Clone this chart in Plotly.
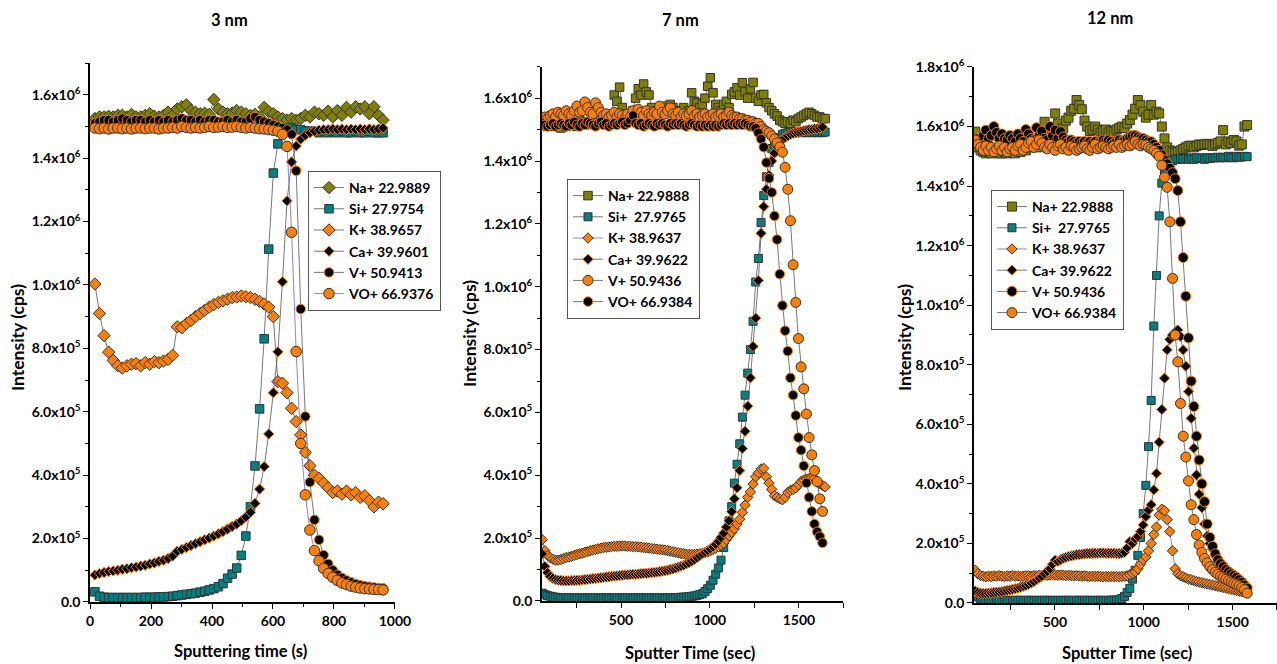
import plotly.graph_objects as go

SCALE = 1e5  # all intensity values below are in units of 1e5 cps

# ---------------- 3 nm ----------------
time_3nm = [16,31,46,61,76,91,106,121,136,151,166,181,196,211,226,241,256,271,286,301,
            316,331,346,361,376,391,406,421,436,451,466,481,496,511,526,541,556,571,586,601,
            616,631,646,661,676,691,706,721,736,751,766,781,796,811,826,841,856,871,886,901,
            916,931,946,961]
na_3nm = [15.25,15.3,15.3,15.32,15.3,15.35,15.35,15.3,15.38,15.3,
          15.3,15.35,15.4,15.32,15.3,15.35,15.45,15.35,15.55,15.62,
          15.68,15.5,15.45,15.4,15.42,15.38,15.85,15.55,15.45,15.4,
          15.42,15.5,15.45,15.4,15.35,15.38,15.3,15.6,15.47,15.4,
          15.3,15.25,15.2,15.25,15.2,15.25,15.35,15.3,15.45,15.4,
          15.35,15.48,15.3,15.5,15.35,15.6,15.45,15.62,15.55,15.62,
          15.4,15.62,15.35,15.2]
si_3nm = [0.32,0.18,0.15,0.14,0.14,0.14,0.14,0.14,0.14,0.14,
          0.14,0.15,0.15,0.15,0.16,0.16,0.17,0.18,0.2,0.22,
          0.24,0.26,0.28,0.31,0.34,0.38,0.42,0.48,0.58,0.75,
          0.88,1.07,1.47,2.08,3.0,4.29,6.09,8.3,11.13,13.53,
          14.45,14.9,14.95,14.95,14.9,14.9,14.85,14.85,14.85,14.8,
          14.85,14.8,14.85,14.8,14.85,14.8,14.8,14.85,14.8,14.8,
          14.85,14.8,14.8,14.8]
k_3nm = [10.03,9.1,8.4,7.88,7.62,7.45,7.38,7.45,7.5,7.52,
         7.45,7.55,7.5,7.58,7.55,7.6,7.65,7.78,8.68,8.65,
         8.78,8.88,9.0,9.1,9.2,9.3,9.38,9.45,9.5,9.55,
         9.6,9.62,9.65,9.63,9.6,9.55,9.48,9.4,9.3,9.0,
         6.95,6.9,6.6,6.11,5.69,5.27,4.72,4.3,4.0,3.9,
         3.75,3.6,3.45,3.5,3.4,3.5,3.38,3.45,3.3,3.35,
         3.2,3.0,3.15,3.1]
ca_3nm = [0.85,0.9,0.93,0.96,0.98,1.0,1.03,1.05,1.08,1.1,
          1.13,1.16,1.2,1.23,1.28,1.32,1.37,1.45,1.6,1.66,
          1.72,1.78,1.84,1.9,1.96,2.02,2.08,2.15,2.22,2.3,
          2.38,2.46,2.56,2.68,2.83,3.11,3.56,4.27,5.3,6.6,
          7.89,10.1,12.65,13.88,14.38,14.6,14.72,14.8,14.85,14.88,
          14.9,14.9,14.92,14.9,14.92,14.9,14.92,14.9,14.92,14.9,
          14.92,14.9,14.92,14.95]
v_3nm = [15.1,15.15,15.2,15.2,15.15,15.2,15.25,15.2,15.15,15.2,
         15.2,15.15,15.2,15.15,15.2,15.15,15.2,15.15,15.2,15.25,
         15.2,15.2,15.15,15.2,15.15,15.2,15.2,15.15,15.15,15.2,
         15.15,15.2,15.15,15.15,15.25,15.3,15.2,15.15,15.1,15.05,
         15.0,14.95,14.9,14.75,13.6,9.24,5.85,3.78,2.59,1.96,
         1.48,1.2,1.0,0.86,0.76,0.68,0.62,0.57,0.53,0.5,
         0.48,0.46,0.44,0.43]
vo_3nm = [14.95,14.93,14.95,14.92,14.95,14.95,14.93,14.95,14.92,14.95,
          14.95,14.93,14.95,14.95,14.92,14.95,14.95,14.97,14.95,15.0,
          14.97,14.95,14.97,14.95,14.97,15.0,14.97,14.98,15.0,14.97,
          14.98,15.0,14.97,14.95,14.97,14.95,14.93,14.92,14.9,14.88,
          14.85,14.75,14.37,11.66,7.9,5.0,3.38,2.27,1.62,1.3,
          1.06,0.9,0.78,0.68,0.6,0.55,0.5,0.47,0.44,0.42,
          0.41,0.4,0.39,0.38]

# ---------------- 7 nm ----------------
time_7nm = [57,72,87,102,117,132,147,162,177,192,207,222,237,252,267,282,297,312,327,342,
            357,372,387,402,417,432,447,462,477,492,507,522,537,552,567,582,597,612,627,642,
            657,672,687,702,717,732,747,762,777,792,807,822,837,852,867,882,897,912,927,942,
            957,972,987,1002,1017,1032,1047,1062,1077,1092,1107,1122,1137,1152,1167,1182,1197,1212,1227,1242,
            1257,1272,1287,1302,1317,1332,1347,1362,1377,1392,1407,1422,1437,1452,1467,1482,1497,1512,1527,1542,
            1557,1572,1587,1602,1617,1632,1647]
na_7nm = [15.2,15.15,15.1,15.2,15.25,15.1,15.15,15.05,15.2,15.1,
          15.25,15.15,15.2,15.1,15.3,15.2,15.15,15.25,15.2,15.3,
          15.2,15.25,15.35,15.3,15.4,15.3,15.5,16.1,15.9,16.35,
          15.7,15.5,15.4,15.5,15.6,16.0,16.3,16.1,16.45,16.2,
          16.1,15.7,15.5,15.6,15.7,15.5,15.6,15.75,15.8,15.7,
          15.6,15.5,15.6,15.7,15.5,15.6,16.17,15.9,15.85,15.7,
          15.8,16.0,16.38,16.65,16.17,15.8,15.7,15.6,15.8,15.9,
          15.7,16.12,16.2,16.33,16.1,16.49,16.2,16.0,16.3,16.5,
          16.0,15.9,16.1,16.12,15.85,15.7,15.6,15.5,15.43,15.3,
          15.25,15.2,15.25,15.2,15.3,15.25,15.35,15.4,15.45,15.5,
          15.55,15.5,15.45,15.4,15.4,15.35,15.35]
si_7nm = [0.25,0.2,0.17,0.15,0.13,0.12,0.11,0.1,0.1,0.1,
          0.1,0.09,0.1,0.1,0.09,0.1,0.1,0.1,0.09,0.1,
          0.1,0.1,0.09,0.1,0.1,0.1,0.09,0.1,0.1,0.1,
          0.09,0.1,0.1,0.1,0.09,0.1,0.1,0.1,0.09,0.1,
          0.1,0.1,0.09,0.1,0.1,0.1,0.09,0.1,0.1,0.1,
          0.1,0.11,0.12,0.12,0.13,0.14,0.15,0.16,0.18,0.2,
          0.23,0.3,0.39,0.5,0.66,0.85,1.05,1.3,1.7,2.1,
          2.55,3.0,3.75,4.35,5.0,5.85,6.55,7.25,8.0,8.9,
          10.15,10.9,12.04,12.9,13.5,13.95,14.4,14.55,14.65,14.75,
          14.85,14.88,14.9,14.9,14.92,14.9,14.92,14.9,14.92,14.9,
          14.92,14.9,14.92,14.9,14.92,14.9,14.92]
k_7nm = [1.95,1.6,1.45,1.38,1.33,1.3,1.3,1.32,1.35,1.38,
         1.4,1.42,1.45,1.48,1.5,1.52,1.55,1.57,1.6,1.62,
         1.64,1.66,1.68,1.7,1.71,1.72,1.73,1.74,1.74,1.75,
         1.75,1.75,1.74,1.74,1.73,1.73,1.72,1.71,1.7,1.69,
         1.68,1.67,1.66,1.65,1.64,1.63,1.62,1.6,1.58,1.57,
         1.55,1.53,1.51,1.5,1.49,1.48,1.48,1.48,1.49,1.5,
         1.52,1.54,1.56,1.6,1.64,1.68,1.73,1.78,1.84,1.95,
         2.07,2.18,2.3,2.45,2.6,2.82,3.05,3.3,3.47,3.72,
         3.95,4.08,4.2,4.22,3.95,3.75,3.55,3.35,3.3,3.25,
         3.22,3.3,3.45,3.52,3.55,3.6,3.7,3.8,3.85,3.88,
         3.9,3.92,3.9,3.78,3.72,3.68,3.63]
ca_7nm = [1.5,1.1,0.9,0.78,0.72,0.68,0.66,0.65,0.64,0.64,
          0.64,0.65,0.65,0.66,0.66,0.67,0.68,0.69,0.7,0.71,
          0.72,0.73,0.74,0.75,0.76,0.77,0.78,0.79,0.8,0.81,
          0.82,0.83,0.83,0.84,0.85,0.85,0.86,0.87,0.88,0.88,
          0.89,0.9,0.91,0.92,0.93,0.95,0.96,0.98,1.0,1.02,
          1.05,1.08,1.11,1.14,1.18,1.22,1.27,1.32,1.38,1.44,
          1.5,1.55,1.6,1.66,1.72,1.8,1.9,2.02,2.16,2.35,
          2.55,2.84,3.25,3.6,4.15,4.85,5.4,6.2,7.1,8.1,
          9.0,10.2,11.7,12.55,13.1,13.55,14.0,14.25,14.45,14.6,
          14.68,14.75,14.8,14.85,14.88,14.9,14.92,14.94,14.96,14.98,
          15.0,15.0,15.02,15.03,15.05,15.08,None]
v_7nm = [15.3,15.4,15.35,15.45,15.5,15.4,15.55,15.5,15.45,15.6,
         15.5,15.45,15.6,15.75,15.55,15.6,15.88,15.7,15.55,15.5,
         15.85,15.7,15.55,15.45,15.5,15.4,15.45,15.55,15.4,15.5,
         15.45,15.35,15.5,15.4,15.6,15.5,15.65,15.55,15.45,15.6,
         15.5,15.45,15.55,15.5,15.75,15.55,15.5,15.6,15.69,15.5,
         15.45,15.55,15.4,15.5,15.45,15.5,15.6,15.45,15.5,15.4,
         15.45,15.5,15.4,15.45,15.5,15.4,15.45,15.5,15.4,15.45,
         15.55,15.45,15.4,15.4,15.35,15.35,15.3,15.3,15.25,15.25,
         15.2,15.2,15.1,15.0,14.95,14.9,14.8,14.7,14.58,14.45,
         14.28,13.8,13.1,12.1,10.7,9.5,8.35,7.45,6.75,5.95,
         5.2,4.65,4.15,3.8,3.25,2.85,None]
vo_7nm = [15.2,15.15,15.1,15.15,15.2,15.1,15.15,15.2,15.15,15.1,
          15.2,15.15,15.25,15.15,15.1,15.2,15.15,15.25,15.2,15.15,
          15.1,15.2,15.25,15.15,15.2,15.1,15.15,15.2,15.15,15.2,
          15.25,15.15,15.2,15.3,15.45,15.2,15.15,15.2,15.1,15.15,
          15.2,15.15,15.1,15.2,15.15,15.2,15.15,15.1,15.2,15.15,
          15.2,15.15,15.2,15.15,15.1,15.15,15.2,15.15,15.1,15.15,
          15.1,15.15,15.1,15.15,15.1,15.15,15.1,15.15,15.2,15.15,
          15.2,15.15,15.2,15.15,15.2,15.15,15.2,15.15,15.1,15.1,
          15.05,14.9,14.7,14.44,13.95,13.45,13.0,12.25,11.5,10.4,
          9.4,8.6,7.95,7.1,6.55,5.9,5.2,4.8,4.3,3.76,
          3.3,2.85,2.45,2.2,2.05,1.85,None]

# ---------------- 12 nm ----------------
time_12nm = [52,67,82,97,112,127,142,157,172,187,202,217,232,247,262,277,292,307,322,337,
             352,367,382,397,412,427,442,457,472,487,502,517,532,547,562,577,592,607,622,637,
             652,667,682,697,712,727,742,757,772,787,802,817,832,847,862,877,892,907,922,937,
             952,967,982,997,1012,1027,1042,1057,1072,1087,1102,1117,1132,1147,1162,1177,1192,1207,1222,1237,
             1252,1267,1282,1297,1312,1327,1342,1357,1372,1387,1402,1417,1432,1447,1462,1477,1492,1507,1522,1537,
             1552,1567,1582]
na_12nm = [15.83,15.3,15.2,15.15,15.1,15.15,15.1,15.2,15.15,15.1,
           15.1,15.15,15.1,15.2,15.15,15.1,15.2,15.15,15.25,15.2,
           15.3,15.55,15.4,15.3,15.45,15.6,16.16,15.8,15.7,15.9,
           16.44,16.1,15.9,15.95,16.2,16.3,16.53,16.6,16.89,16.72,
           16.58,16.2,16.0,15.85,15.9,16.0,15.9,15.8,15.85,15.9,
           15.8,15.85,15.83,15.9,15.95,16.0,15.95,16.1,16.22,16.4,
           16.6,16.89,16.72,16.5,16.3,16.4,16.72,16.4,16.5,16.44,
           16.0,15.6,15.3,15.2,15.15,15.13,15.15,15.2,15.25,15.3,
           15.35,15.36,15.3,15.35,15.4,15.38,15.4,15.42,15.4,15.35,
           15.4,15.45,15.5,15.88,15.4,15.5,15.45,15.55,15.5,15.36,
           15.4,16.0,16.05]
si_12nm = [0.3,0.2,0.15,0.12,0.1,0.1,0.09,0.09,0.09,0.09,
           0.09,0.08,0.09,0.09,0.08,0.09,0.09,0.09,0.08,0.09,
           0.09,0.09,0.08,0.09,0.09,0.08,0.09,0.09,0.09,0.08,
           0.09,0.09,0.08,0.09,0.09,0.09,0.08,0.09,0.09,0.09,
           0.08,0.09,0.09,0.09,0.08,0.09,0.09,0.09,0.08,0.09,
           0.09,0.09,0.1,0.1,0.12,0.15,0.22,0.35,0.49,0.8,
           1.1,1.6,2.2,3.0,3.95,5.25,6.8,9.3,11.0,13.0,
           14.1,14.5,14.7,14.8,14.85,14.9,14.9,14.93,14.9,14.93,
           14.9,14.95,14.9,14.95,14.93,14.95,14.9,14.95,14.93,14.95,
           14.95,14.97,14.95,14.97,14.95,15.0,14.97,14.95,15.0,14.97,
           14.98,15.0,14.99]
k_12nm = [1.1,0.98,0.92,0.9,0.88,0.9,0.89,0.91,0.9,0.92,
          0.9,0.89,0.91,0.9,0.92,0.9,0.91,0.89,0.9,0.92,
          0.91,0.9,0.92,0.91,0.93,0.92,0.94,0.93,0.94,0.95,
          0.94,0.93,0.94,0.93,0.92,0.93,0.92,0.91,0.92,0.91,
          0.9,0.91,0.9,0.89,0.9,0.89,0.9,0.89,0.88,0.89,
          0.88,0.89,0.88,0.89,0.88,0.89,0.9,0.91,0.95,1.0,
          1.05,1.15,1.3,1.45,1.55,1.75,2.0,2.3,2.55,2.95,
          3.15,3.1,2.8,2.4,1.75,1.15,0.98,0.92,0.88,0.84,
          0.8,0.78,0.75,0.72,0.7,0.68,0.66,0.64,0.62,0.6,
          0.58,0.56,0.54,0.52,0.5,0.48,0.46,0.44,0.42,0.4,
          0.38,0.36,0.34]
ca_12nm = [0.4,0.35,0.33,0.32,0.32,0.33,0.34,0.35,0.36,0.37,
           0.38,0.4,0.42,0.44,0.46,0.48,0.5,0.53,0.56,0.59,
           0.63,0.67,0.72,0.78,0.84,0.9,0.98,1.06,1.15,1.3,
           1.44,1.4,1.45,1.5,1.53,1.56,1.58,1.6,1.62,1.63,
           1.64,1.65,1.66,1.66,1.67,1.67,1.67,1.68,1.68,1.67,
           1.67,1.67,1.67,1.66,1.66,1.67,1.7,1.85,2.06,2.0,
           2.15,2.23,2.4,2.62,2.9,3.12,3.3,3.8,4.35,5.4,
           6.5,7.55,8.5,8.85,9.0,9.1,9.17,8.95,8.5,7.95,
           7.1,6.2,5.2,4.3,3.65,3.2,2.65,2.25,2.0,1.8,
           1.62,1.48,1.36,1.25,1.15,1.06,0.98,0.9,0.83,0.76,
           0.69,0.62,0.55]
v_12nm = [15.4,15.6,15.5,15.7,15.88,15.6,15.7,16.0,15.8,15.6,
          15.75,15.6,15.55,15.7,15.6,15.5,15.75,15.6,15.5,15.9,
          15.75,15.6,15.55,15.96,15.7,15.85,15.6,15.55,16.0,15.7,
          15.88,15.6,15.83,15.65,15.55,15.5,15.55,15.5,15.45,15.5,
          15.45,15.5,15.45,15.5,15.45,15.5,15.45,15.5,15.55,15.5,
          15.55,15.5,15.45,15.5,15.55,15.5,15.55,15.6,15.65,15.7,
          15.7,15.65,15.6,15.6,15.55,15.5,15.49,15.4,15.3,15.2,
          15.05,14.88,14.75,14.6,14.45,14.25,13.85,12.8,11.6,10.3,
          8.9,7.45,6.6,5.6,4.8,4.0,3.4,2.65,2.2,1.9,
          1.65,1.45,1.32,1.22,1.12,1.05,0.98,0.92,0.86,0.78,
          0.7,0.6,0.5]
vo_12nm = [15.55,15.4,15.3,15.2,15.35,15.2,15.3,15.15,15.25,15.35,
           15.2,15.3,15.15,15.25,15.3,15.2,15.35,15.4,15.2,15.3,
           15.45,15.5,15.3,15.4,15.55,15.45,15.3,15.25,15.4,15.3,
           15.2,15.35,15.4,15.25,15.3,15.2,15.35,15.3,15.2,15.25,
           15.3,15.35,15.25,15.2,15.3,15.4,15.25,15.3,15.35,15.3,
           15.25,15.3,15.35,15.3,15.4,15.3,15.35,15.4,15.35,15.4,
           15.5,15.4,15.35,15.4,15.38,15.3,15.25,15.2,15.1,15.0,
           14.7,14.3,13.96,12.8,10.9,9.0,8.1,6.7,5.6,4.9,
           4.1,3.3,2.8,2.3,1.95,1.7,1.5,1.35,1.22,1.12,
           1.03,0.96,0.9,0.85,0.8,0.75,0.7,0.66,0.62,0.58,
           0.52,0.45,0.33]

# legend labels
names_3nm = ["Na+ 22.9889", "Si+ 27.9754", "K+ 38.9657", "Ca+ 39.9601", "V+ 50.9413", "VO+ 66.9376"]
names_7nm = ["Na+ 22.9888", "Si+\u00a0 27.9765", "K+ 38.9637", "Ca+ 39.9622", "V+ 50.9436", "VO+ 66.9384"]
names_12nm = ["Na+ 22.9888", "Si+\u00a0 27.9765", "K+ 38.9637", "Ca+ 39.9622", "V+ 50.9436", "VO+ 66.9384"]

# tick labels
ytick_vals = [0, 2e5, 4e5, 6e5, 8e5, 1e6, 1.2e6, 1.4e6, 1.6e6, 1.8e6]
ytick_text = ["0.0", "2.0x10<sup>5</sup>", "4.0x10<sup>5</sup>", "6.0x10<sup>5</sup>",
              "8.0x10<sup>5</sup>", "1.0x10<sup>6</sup>", "1.2x10<sup>6</sup>",
              "1.4x10<sup>6</sup>", "1.6x10<sup>6</sup>", "1.8x10<sup>6</sup>"]
xtick_3nm = [0, 200, 400, 600, 800, 1000]
xtick_long = [250, 500, 750, 1000, 1250, 1500, 1750]
xtick_long_text = ["", "500", "", "1000", "", "1500", ""]

for arr in [na_3nm, si_3nm, k_3nm, ca_3nm, v_3nm, vo_3nm]:
    assert len(arr) == len(time_3nm), len(arr)
for arr in [na_7nm, si_7nm, k_7nm, ca_7nm, v_7nm, vo_7nm]:
    assert len(arr) == len(time_7nm), len(arr)
for arr in [na_12nm, si_12nm, k_12nm, ca_12nm, v_12nm, vo_12nm]:
    assert len(arr) == len(time_12nm), len(arr)

FONT = "Lato"
OLIVE, TEAL, ORANGE, BLACK = "#808000", "#008080", "#FF8000", "#000000"
DARK, GREY, BLUE = "#333333", "#555555", "#6a6ad0"


def sc(arr):
    return [None if v is None else v * SCALE for v in arr]


fig = go.Figure()


def add(x, y, name, sym, fill, outline, size, axis, legend, lcolor=GREY):
    fig.add_trace(go.Scatter(
        x=x, y=sc(y), name=name, mode="lines+markers",
        xaxis="x" + axis, yaxis="y" + axis, legend=legend,
        line=dict(color=lcolor, width=0.8),
        marker=dict(symbol=sym, color=fill, size=size, line=dict(color=outline, width=1)),
    ))


# panel 1
add(time_3nm, na_3nm, names_3nm[0], "diamond", OLIVE, DARK, 9.5, "", "legend")
add(time_3nm, si_3nm, names_3nm[1], "square", TEAL, DARK, 8.5, "", "legend")
add(time_3nm, k_3nm, names_3nm[2], "diamond", ORANGE, DARK, 9.5, "", "legend")
add(time_3nm, ca_3nm, names_3nm[3], "diamond", BLACK, ORANGE, 8, "", "legend")
add(time_3nm, v_3nm, names_3nm[4], "circle", BLACK, ORANGE, 9.5, "", "legend")
add(time_3nm, vo_3nm, names_3nm[5], "circle", ORANGE, DARK, 10.5, "", "legend", BLUE)
# panel 2
add(time_7nm, na_7nm, names_7nm[0], "square", OLIVE, DARK, 8.5, "2", "legend2")
add(time_7nm, si_7nm, names_7nm[1], "square", TEAL, DARK, 8, "2", "legend2")
add(time_7nm, k_7nm, names_7nm[2], "diamond", ORANGE, DARK, 8, "2", "legend2", BLUE)
add(time_7nm, ca_7nm, names_7nm[3], "diamond", BLACK, ORANGE, 8, "2", "legend2")
add(time_7nm, v_7nm, names_7nm[4], "circle", ORANGE, DARK, 10, "2", "legend2")
add(time_7nm, vo_7nm, names_7nm[5], "circle", BLACK, ORANGE, 9.5, "2", "legend2")
# panel 3
add(time_12nm, na_12nm, names_12nm[0], "square", OLIVE, DARK, 9, "3", "legend3")
add(time_12nm, si_12nm, names_12nm[1], "square", TEAL, DARK, 8, "3", "legend3")
add(time_12nm, k_12nm, names_12nm[2], "diamond", ORANGE, DARK, 8, "3", "legend3", BLUE)
add(time_12nm, ca_12nm, names_12nm[3], "diamond", BLACK, ORANGE, 8, "3", "legend3")
add(time_12nm, v_12nm, names_12nm[4], "circle", BLACK, ORANGE, 10, "3", "legend3")
add(time_12nm, vo_12nm, names_12nm[5], "circle", ORANGE, DARK, 10, "3", "legend3")

tickfont = dict(family=FONT, size=14, color="black", weight="bold")
common = dict(showline=True, linecolor="black", linewidth=1.5, ticks="outside", ticklen=5,
              tickwidth=1.2, tickcolor="black", tickfont=tickfont, showgrid=False,
              zeroline=False, mirror=False, automargin=False)


def xax(domain, rng, vals, text, anchor, minor=None):
    d = dict(common, domain=domain, range=rng, tickmode="array", tickvals=vals,
             ticktext=text, anchor=anchor)
    if minor:
        d["minor"] = dict(ticks="outside", ticklen=3, tickwidth=1, tickcolor="black",
                          tick0=0, dtick=minor)
    return d


def yax(domain, top, anchor):
    n = 10 if top > 1.75e6 else 9
    return dict(common, domain=domain, range=[0, top], tickmode="array",
                tickvals=ytick_vals[:n], ticktext=ytick_text[:n], anchor=anchor,
                minor=dict(ticks="outside", ticklen=3, tickwidth=1, tickcolor="black",
                           tick0=0, dtick=1e5))


legend_style = dict(bgcolor="white", bordercolor="#555555", borderwidth=1,
                    font=dict(family=FONT, size=14, color="black", weight="bold"),
                    xanchor="left", yanchor="top", itemsizing="trace", tracegroupgap=0)

fig.update_layout(
    width=1277, height=664, margin=dict(l=0, r=0, t=0, b=0, autoexpand=False),
    paper_bgcolor="white", plot_bgcolor="white",
    xaxis=xax([0.0705, 0.3093], [0, 1000], xtick_3nm, [str(v) for v in xtick_3nm], "y", 100),
    yaxis=yax([0.0934, 0.9051], 1.7e6, "x"),
    xaxis2=xax([0.4243, 0.6605], [55, 1750], xtick_long, xtick_long_text, "y2"),
    yaxis2=yax([0.0949, 0.8995], 1.7e6, "x2"),
    xaxis3=xax([0.7627, 1.0], [45, 1750], xtick_long, xtick_long_text, "y3"),
    yaxis3=yax([0.0919, 0.8991], 1.8e6, "x3"),
    legend=dict(legend_style, x=0.2412, y=0.7425),
    legend2=dict(legend_style, x=0.444, y=0.7304),
    legend3=dict(legend_style, x=0.776, y=0.7139),
)

title_font = dict(family=FONT, size=16.5, color="black", weight="bold")
xtitle_font = dict(family=FONT, size=16.5, color="black", weight="bold")
ytitle_font = dict(family=FONT, size=17.5, color="black", weight="bold")
annotations = [
    ("3 nm", 0.1801, 0.9699, 0, title_font), ("7 nm", 0.5325, 0.9699, 0, title_font),
    ("12 nm", 0.8692, 0.973, 0, title_font),
    ("Intensity (cps)", 0.0141, 0.491, -90, ytitle_font),
    ("Intensity (cps)", 0.368, 0.4985, -90, ytitle_font),
    ("Intensity (cps)", 0.7087, 0.491, -90, ytitle_font),
    ("Sputtering time (s)", 0.188, 0.0196, 0, xtitle_font),
    ("Sputter Time (sec)", 0.5403, 0.0166, 0, xtitle_font),
    ("Sputter Time (sec)", 0.8825, 0.0166, 0, xtitle_font),
]
for text, x, y, ang, f in annotations:
    fig.add_annotation(text=text, x=x, y=y, xref="paper", yref="paper", showarrow=False,
                       xanchor="center", yanchor="middle", textangle=ang, font=f)

fig.write_html("out.html")
